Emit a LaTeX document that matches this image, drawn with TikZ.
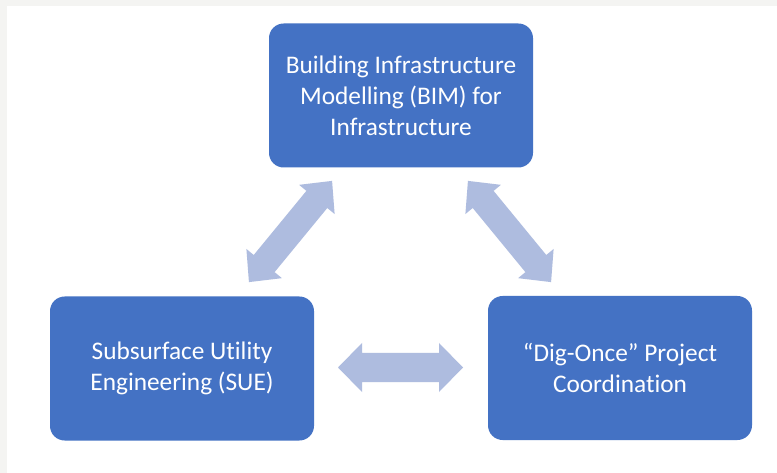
\documentclass[tikz,border=0pt]{standalone}
\usepackage{fontspec}
\setmainfont[Ligatures=NoCommon]{Carlito}
\begin{document}
\begin{tikzpicture}[x=0.75pt,y=-0.75pt,
  box/.style={draw=none,fill=boxblue,rounded corners=11pt,
    minimum width=198pt,minimum height=108pt,inner sep=0pt,
    text=white,align=center,font=\fontsize{19}{23.25}\selectfont},
  arrowfill/.style={fill=arrowblue,draw=none}]
\definecolor{boxblue}{HTML}{4472C4}
\definecolor{arrowblue}{HTML}{AEBCDF}
\definecolor{edgegrey}{HTML}{F4F4F2}

% page area with the thin grey strips on the top and left edges
\useasboundingbox (0,0) rectangle (777,473);
\fill[white] (0,0) rectangle (777,473);
\fill[edgegrey] (0,0) rectangle (777,6.5);
\fill[edgegrey] (0,0) rectangle (7,473);

% the three blocks
\node[box] (bim) at (401,95.5) {Building Infrastructure\\Modelling (BIM) for\\Infrastructure};
\node[box] (sue) at (182,368.5) {Subsurface Utility\\Engineering (SUE)};
\node[box] (dig) at (620,368) {“Dig-Once” Project\\Coordination};

% double-headed block arrow of length #1, head width #2, shaft width #3
\newcommand{\blockarrow}[3]{%
  \fill[arrowfill] (-#1/2,0) -- (-#1/2+24,#2/2) -- (-#1/2+24,#3/2)
    -- (#1/2-24,#3/2) -- (#1/2-24,#2/2) -- (#1/2,0)
    -- (#1/2-24,-#2/2) -- (#1/2-24,-#3/2) -- (-#1/2+24,-#3/2)
    -- (-#1/2+24,-#2/2) -- cycle;}

% SUE <-> BIM
\begin{scope}[shift={(290.5,231.5)},rotate=50.6]
  \blockarrow{131}{46}{27}
\end{scope}
% BIM <-> Dig-Once
\begin{scope}[shift={(509.5,231.5)},rotate=-50.6]
  \blockarrow{131}{46}{27}
\end{scope}
% SUE <-> Dig-Once
\begin{scope}[shift={(400.5,367.5)}]
  \blockarrow{125}{49}{29}
\end{scope}
\end{tikzpicture}
\end{document}
